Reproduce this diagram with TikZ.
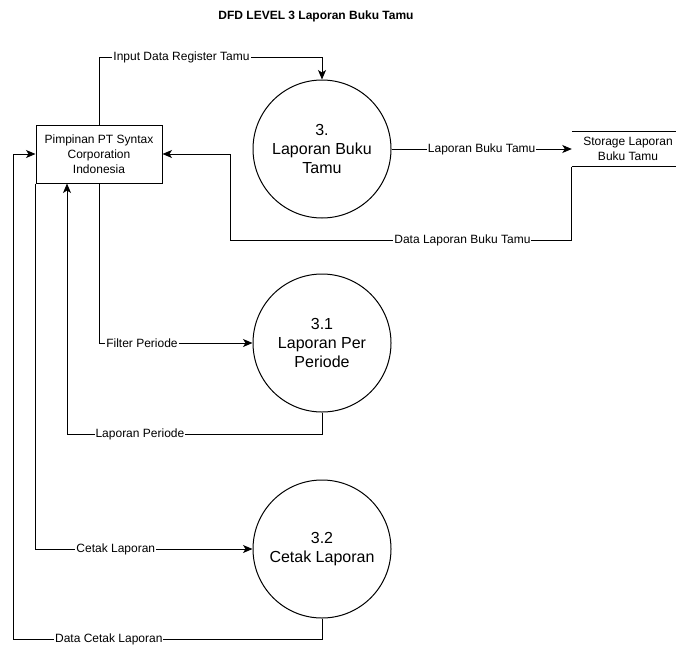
\documentclass[tikz,border=0pt]{standalone}
\usepackage{fontspec}
\setmainfont{Liberation Sans}
\usetikzlibrary{arrows.meta}

\begin{document}
\begin{tikzpicture}[
    x=1pt, y=-1pt,
    proses/.style={
      circle,
      draw,
      line width=1pt,
      inner sep=0pt,
      minimum size=138pt,
      align=center,
      font=\fontsize{16}{19}\selectfont},
    entitas/.style={
      rectangle,
      draw,
      line width=1pt,
      minimum width=126pt,
      minimum height=58pt,
      align=center,
      font=\fontsize{12}{15}\selectfont},
    gudang/.style={
      rectangle,
      minimum width=112pt,
      minimum height=35pt,
      align=center,
      font=\fontsize{12}{15}\selectfont},
    aliran/.style={
      draw,
      line width=1pt,
      -{Stealth[length=9.5pt,width=8pt,inset=2.5pt]}},
    teks/.style={
      fill=white,
      inner sep=1pt,
      font=\fontsize{12}{14}\selectfont}
    ]

  \fill[white] (0,0) rectangle (676,645);
  \useasboundingbox (0,0) rectangle (676,645);

  \node at (316, 16) (judul) [font=\fontsize{12}{14}\selectfont\bfseries] {DFD LEVEL 3 Laporan Buku Tamu};
\node at (99, 154) (entitas) [entitas] {Pimpinan PT Syntax\\Corporation\\Indonesia};
\node at (322, 149) (proses3) [proses] {3.\\Laporan Buku\\Tamu};
\node at (322, 343) (proses31) [proses] {3.1\\Laporan Per\\Periode};
\node at (322, 549) (proses32) [proses] {3.2\\Cetak Laporan};
\node at (628, 149) (gudang) [gudang] {Storage Laporan\\Buku Tamu};
\coordinate (rand) at (676, 0);

  \draw[line width=1pt] (gudang.north west) -- (gudang.north west -| rand)
        (gudang.south west) -- (gudang.south west -| rand);



  \draw[aliran] (entitas.north) -- (entitas.north |- 0,57) -- node[teks, pos=0.37] {Input Data Register Tamu} (proses3.north |- 0,57) -- (proses3.north);
\draw[aliran] (proses3.east) -- node[teks] {Laporan Buku Tamu} (gudang.west);
\draw[aliran] (gudang.south west) -- (gudang.south west |- 0,240) -- node[teks, pos=0.32] {Data Laporan Buku Tamu} (230,240) -- (entitas.east -| 230,0) -- (entitas.east);
\draw[aliran] (entitas.south) -- (entitas.south |- proses31.west) -- node[teks, pos=0.28] {Filter Periode} (proses31.west);
\draw[aliran] (proses31.south) -- (proses31.south |- 0,434) -- node[teks, pos=0.714] {Laporan Periode} (67,434) -- (entitas.south -| 67,0);
\draw[aliran] (entitas.south west) -- (entitas.south west |- proses32.west) -- node[teks, pos=0.37] {Cetak Laporan} (proses32.west);
\draw[aliran] (proses32.south) -- (proses32.south |- 0,639) -- node[teks, pos=0.69] {Data Cetak Laporan} (13,639) -- (entitas.west -| 13,0) -- (entitas.west);



\end{tikzpicture}
\end{document}
